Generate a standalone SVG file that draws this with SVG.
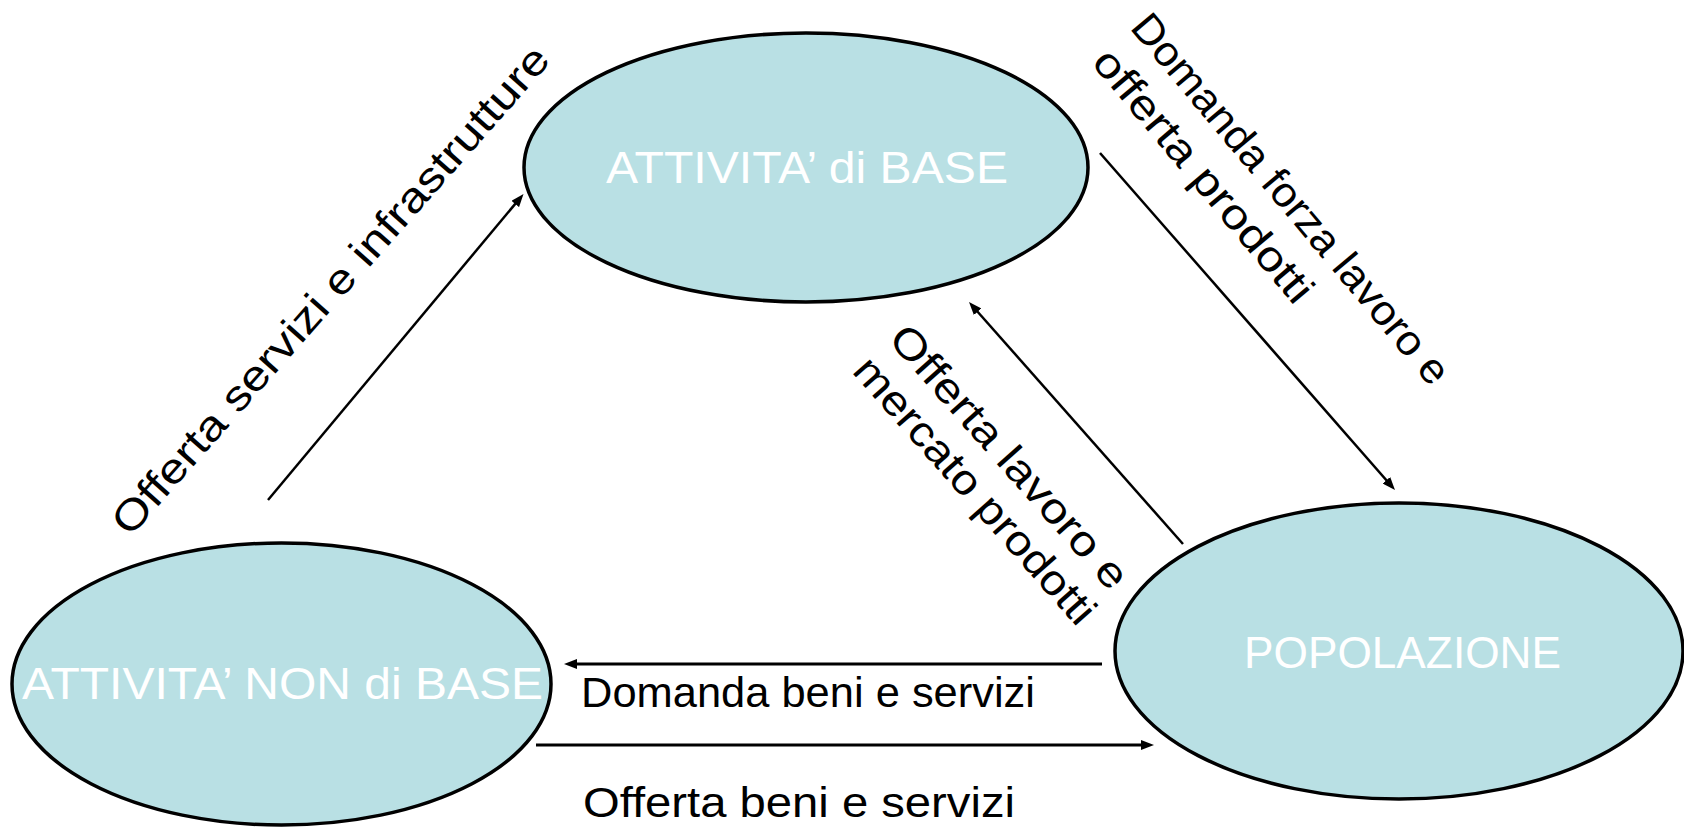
<svg xmlns="http://www.w3.org/2000/svg" width="1684" height="832" viewBox="0 0 1684 832">
<style>
.node{fill:#B9E0E4;stroke:#000;stroke-width:3.5}
.nl{font-family:"Liberation Sans",Arial,sans-serif;font-size:44px;fill:#fff}
.lbl{font-family:"Liberation Sans",Arial,sans-serif;font-size:42px;fill:#000}
.c{stroke:#000;fill:none}
.d{stroke-width:2.5}
.h{stroke-width:3.2}
</style>
<defs>
<marker id="ah" markerUnits="userSpaceOnUse" markerWidth="14" markerHeight="10" refX="5" refY="5" orient="auto">
<path d="M0,0 L13,5 L0,10 z" fill="#000"/>
</marker>
</defs>
<rect width="1684" height="832" fill="#fff"/>
<g id="connectors">
<line class="c d" x1="268" y1="500" x2="518.4" y2="200.1" marker-end="url(#ah)"/>
<line class="c d" x1="1100" y1="153" x2="1389.7" y2="484" marker-end="url(#ah)"/>
<line class="c d" x1="1183" y1="544" x2="974.3" y2="308" marker-end="url(#ah)"/>
<line class="c h" x1="1102" y1="664" x2="572" y2="664" marker-end="url(#ah)"/>
<line class="c h" x1="536" y1="745" x2="1146" y2="745" marker-end="url(#ah)"/>
</g>
<g id="labels">
<text class="lbl" transform="translate(130,538) rotate(-48.5)" textLength="637" lengthAdjust="spacingAndGlyphs">Offerta servizi e infrastrutture</text>
<g transform="translate(1129,28) rotate(50)">
<text class="lbl" x="0" y="0" textLength="470" lengthAdjust="spacingAndGlyphs">Domanda forza lavoro e</text>
<text class="lbl" x="2" y="52" textLength="318" lengthAdjust="spacingAndGlyphs">offerta prodotti</text>
</g>
<g transform="translate(887,340) rotate(48.5)">
<text class="lbl" x="0" y="0" textLength="337" lengthAdjust="spacingAndGlyphs">Offerta lavoro e</text>
<text class="lbl" x="0" y="48" textLength="342" lengthAdjust="spacingAndGlyphs">mercato prodotti</text>
</g>
<text class="lbl" x="581" y="707" textLength="454" lengthAdjust="spacingAndGlyphs">Domanda beni e servizi</text>
<text class="lbl" x="583" y="817" textLength="432" lengthAdjust="spacingAndGlyphs">Offerta beni e servizi</text>
</g>
<g id="node-base">
<ellipse class="node" cx="806" cy="167.5" rx="282" ry="134.5"/>
<text class="nl" x="606" y="183" textLength="402" lengthAdjust="spacingAndGlyphs">ATTIVITA’ di BASE</text>
</g>
<g id="node-nonbase">
<ellipse class="node" cx="281.5" cy="684" rx="269.5" ry="141"/>
<text class="nl" x="22" y="699" textLength="521" lengthAdjust="spacingAndGlyphs">ATTIVITA’ NON di BASE</text>
</g>
<g id="node-popolazione">
<ellipse class="node" cx="1399" cy="651" rx="284" ry="148"/>
<text class="nl" x="1244" y="668" textLength="317" lengthAdjust="spacingAndGlyphs">POPOLAZIONE</text>
</g>
</svg>
